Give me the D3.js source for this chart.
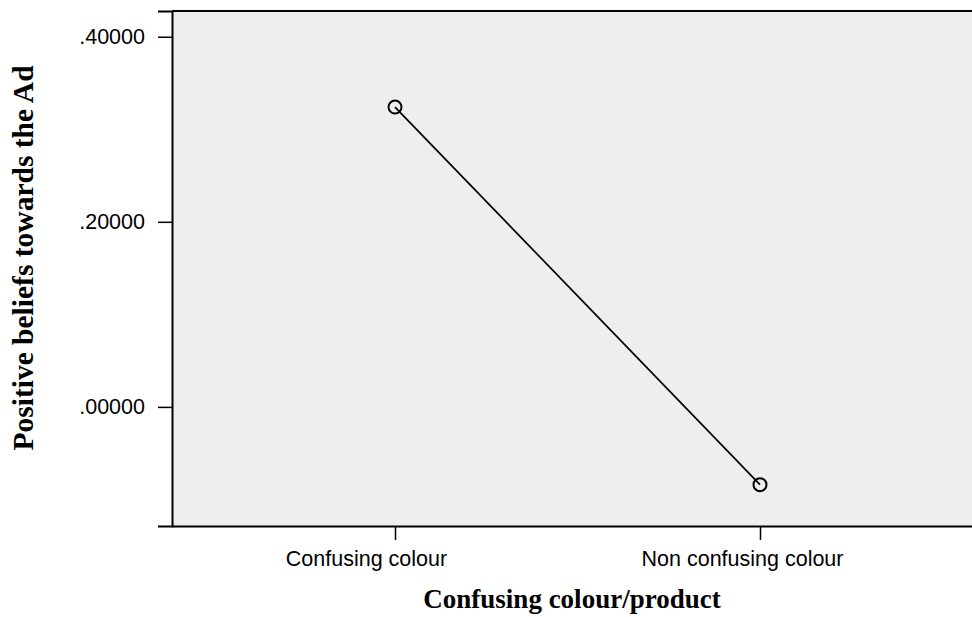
<!DOCTYPE html>
<html><head><meta charset="utf-8">
<script src="https://cdn.jsdelivr.net/npm/d3@7"></script>
<style>body{margin:0;background:#fff}svg{display:block}</style>
</head><body>
<svg id="c" width="972" height="617"></svg>
<script>
const categories = ["Confusing colour", "Non confusing colour"];
const values = [0.324, -0.084];
const yTicks = [0.0, 0.2, 0.4];
const xTitle = "Confusing colour/product";
const yTitle = "Positive beliefs towards the Ad";

const svg = d3.select("#c");
const L = 172, R = 983, T = 11, B = 526;
const labelShift = [-29, -18];
const x = d3.scalePoint().domain(categories).range([L, R]).padding(0.611);
const y = d3.scaleLinear().domain([-0.1287, 0.4278]).range([B, T]);
const sans = "Arial, 'Liberation Sans', sans-serif";
const serif = "'Liberation Serif', 'Times New Roman', serif";

svg.append("rect").attr("x", L).attr("y", T).attr("width", R - L).attr("height", B - T).attr("fill", "#eeeeee");
svg.append("line").attr("x1", L).attr("x2", R).attr("y1", T).attr("y2", T).attr("stroke", "#000").attr("stroke-width", 2);

const yAxis = svg.append("g").attr("transform", `translate(${L},0)`)
  .call(d3.axisLeft(y).tickValues(yTicks).tickFormat(d => d3.format(".5f")(d).replace(/^0/, "").replace(/^-0/, "-")).tickSize(14).tickPadding(13));
yAxis.select(".domain").attr("stroke-width", 2);
yAxis.selectAll("text").attr("font-family", sans).attr("font-size", 21.5).attr("fill", "#000");
yAxis.selectAll(".tick line").attr("stroke-width", 1.5);

const xAxis = svg.append("g").attr("transform", `translate(0,${B})`)
  .call(d3.axisBottom(x).tickSize(14).tickSizeOuter(0).tickPadding(8));
xAxis.select(".domain").attr("stroke-width", 2);
xAxis.selectAll("text").attr("font-family", sans).attr("font-size", 21.5).attr("fill", "#000")
  .attr("dy", null).attr("y", 40).attr("x", (d, i) => labelShift[i]);
xAxis.selectAll(".tick line").attr("stroke-width", 1.5);

const pts = categories.map((c, i) => [x(c), y(values[i])]);
svg.append("path").attr("d", d3.line()(pts)).attr("fill", "none").attr("stroke", "#000").attr("stroke-width", 1.7);
svg.selectAll("circle.m").data(pts).enter().append("circle")
  .attr("cx", d => d[0]).attr("cy", d => d[1]).attr("r", 6.5)
  .attr("fill", "none").attr("stroke", "#000").attr("stroke-width", 2);

svg.append("text").attr("x", 572).attr("y", 608).attr("text-anchor", "middle")
  .attr("font-family", serif).attr("font-weight", "bold").attr("font-size", 27).text(xTitle);
svg.append("text").attr("transform", "translate(33,258) rotate(-90)").attr("text-anchor", "middle")
  .attr("font-family", serif).attr("font-weight", "bold").attr("font-size", 29.5).text(yTitle);
</script>
</body></html>
